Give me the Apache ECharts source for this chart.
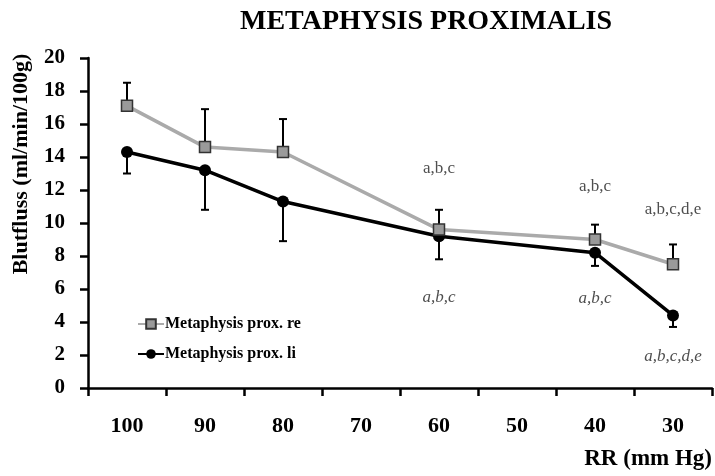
<!DOCTYPE html>
<html>
<head>
<meta charset="utf-8">
<script src="https://cdn.jsdelivr.net/npm/echarts@6/dist/echarts.min.js"></script>
<style>html,body{margin:0;padding:0;background:#fff;}#c{width:715px;height:476px;}</style>
</head>
<body>
<div id="c"></div>
<script>
const categories = ['100', '90', '80', '70', '60', '50', '40', '30'];
const reValues = [17.1, 14.6, 14.3, null, 9.6, null, 9.0, 7.5];
const liValues = [14.3, 13.2, 11.3, null, 9.2, null, 8.2, 4.4];
const reErrUpper = [18.5, 16.9, 16.3, null, 10.8, null, 9.9, 8.7];
const liErrLower = [13.0, 10.8, 8.9, null, 7.8, null, 7.4, 3.7];
const yTicks = [0, 2, 4, 6, 8, 10, 12, 14, 16, 18, 20];
const annotUprightCats = ['60', '40', '30'];
const annotUprightY = [13.3, 12.2, 10.8];
const annotUprightText = ['a,b,c', 'a,b,c', 'a,b,c,d,e'];
const annotItalicCats = ['60', '40', '30'];
const annotItalicY = [5.5, 5.4, 1.9];
const annotItalicText = ['a,b,c', 'a,b,c', 'a,b,c,d,e'];

const FONT = '"Liberation Serif", "Times New Roman", serif';

function errData(vals, ends) {
  const out = [];
  vals.forEach((v, i) => { if (v != null && ends[i] != null) out.push([i, v, ends[i]]); });
  return out;
}
function errRender(params, api) {
  const p0 = api.coord([api.value(0), api.value(1)]);
  const p1 = api.coord([api.value(0), api.value(2)]);
  const cap = 4;
  return {
    type: 'group',
    children: [
      { type: 'line', shape: { x1: p0[0], y1: p0[1], x2: p1[0], y2: p1[1] }, style: { stroke: '#000', lineWidth: 2 } },
      { type: 'line', shape: { x1: p1[0] - cap, y1: p1[1], x2: p1[0] + cap, y2: p1[1] }, style: { stroke: '#000', lineWidth: 2 } }
    ]
  };
}
function annotData(cats, ys, texts) {
  return cats.map((c, i) => [categories.indexOf(c), ys[i], texts[i]]);
}

const chart = echarts.init(document.getElementById('c'));
chart.setOption({
  animation: false,
  title: {
    text: 'METAPHYSIS PROXIMALIS',
    left: 421, top: 3, textAlign: 'center',
    textStyle: { fontFamily: FONT, fontWeight: 'bold', fontSize: 28, color: '#000' }
  },
  legend: {
    orient: 'vertical', left: 132, top: 311, itemGap: 14,
    itemWidth: 26, itemHeight: 12,
    data: ['Metaphysis prox. re', 'Metaphysis prox. li'],
    textStyle: { fontFamily: FONT, fontWeight: 'bold', fontSize: 16, color: '#000', padding: [0, 0, 0, -4] }
  },
  grid: { left: 88, right: 3, top: 58, bottom: 88, containLabel: false },
  xAxis: {
    type: 'category', data: categories, boundaryGap: true,
    name: 'RR (mm Hg)', nameLocation: 'end', nameGap: 0,
    nameTextStyle: { fontFamily: FONT, fontWeight: 'bold', fontSize: 23, color: '#000', align: 'right', verticalAlign: 'top', padding: [60, 0, 0, 0] },
    axisLine: { lineStyle: { color: '#000', width: 2.5 } },
    axisTick: { show: true, length: 8, lineStyle: { color: '#000', width: 2.5 } },
    axisLabel: { fontFamily: FONT, fontWeight: 'bold', fontSize: 22, color: '#000', margin: 27 },
    splitLine: { show: false }
  },
  yAxis: {
    type: 'value', min: yTicks[0], max: yTicks[yTicks.length - 1], interval: 2,
    name: 'Blutfluss (ml/min/100g)', nameLocation: 'middle', nameGap: 56, nameRotate: 90,
    nameTextStyle: { fontFamily: FONT, fontWeight: 'bold', fontSize: 22, color: '#000', padding: [0, 0, 0, 118] },
    axisLine: { show: true, lineStyle: { color: '#000', width: 2.5 } },
    axisTick: { show: true, length: 8, lineStyle: { color: '#000', width: 2.5 } },
    axisLabel: { fontFamily: FONT, fontWeight: 'bold', fontSize: 21, color: '#000', margin: 23 },
    splitLine: { show: false }
  },
  series: [
    {
      type: 'custom', name: 're err', renderItem: errRender, data: errData(reValues, reErrUpper), z: 1, silent: true
    },
    {
      type: 'custom', name: 'li err', renderItem: errRender, data: errData(liValues, liErrLower), z: 1, silent: true
    },
    {
      name: 'Metaphysis prox. re', type: 'line', data: reValues, connectNulls: true, z: 3,
      symbol: 'rect', symbolSize: 11,
      lineStyle: { color: '#aaaaaa', width: 3.5 },
      itemStyle: { color: '#9a9a9a', borderColor: '#333', borderWidth: 1.5 }
    },
    {
      name: 'Metaphysis prox. li', type: 'line', data: liValues, connectNulls: true, z: 2,
      symbol: 'circle', symbolSize: 12,
      lineStyle: { color: '#000', width: 3.5 },
      itemStyle: { color: '#000' }
    },
    {
      type: 'scatter', name: 'annot1', data: annotData(annotUprightCats, annotUprightY, annotUprightText),
      symbolSize: 0, silent: true,
      label: { show: true, position: 'inside', formatter: p => p.value[2], fontFamily: FONT, fontSize: 17, color: '#222' }
    },
    {
      type: 'scatter', name: 'annot2', data: annotData(annotItalicCats, annotItalicY, annotItalicText),
      symbolSize: 0, silent: true,
      label: { show: true, position: 'inside', formatter: p => p.value[2], fontFamily: FONT, fontStyle: 'italic', fontSize: 17, color: '#222' }
    }
  ]
});
</script>
</body>
</html>
